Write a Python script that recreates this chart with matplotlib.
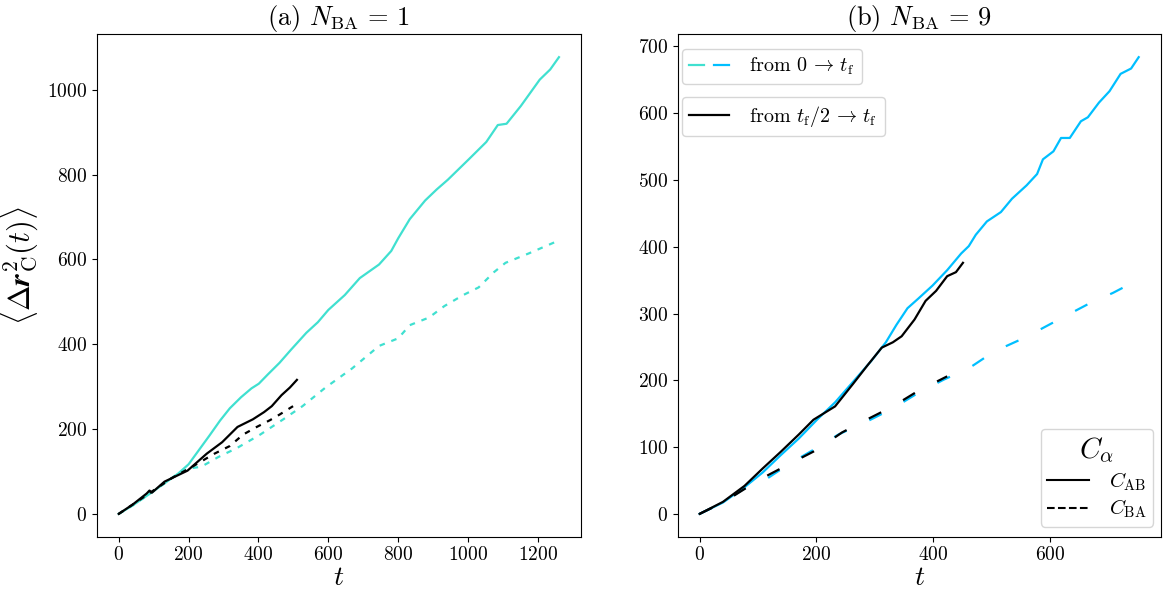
import matplotlib
matplotlib.use("Agg")
import matplotlib.pyplot as plt
from matplotlib.lines import Line2D
from matplotlib.legend_handler import HandlerTuple

plt.rcParams.update({
    "font.family": "serif",
    "font.serif": ["cmr10"],
    "mathtext.fontset": "cm",
    "axes.formatter.use_mathtext": True,
    "axes.unicode_minus": False,
    "lines.scale_dashes": False,
})

# ---------------- Panel (a): N_BA = 1 ----------------
a_full_AB_t = [0, 40, 88, 131, 170, 200, 230, 260, 290, 318, 350, 380, 401, 427, 460, 493, 537, 570, 600,
               647, 690, 745, 780, 800, 833, 877, 910, 942, 1003, 1052, 1085, 1110, 1151, 1205, 1235, 1260]
a_full_AB_v = [0, 20, 47, 72, 95, 117, 151, 185, 220, 249, 275, 296, 307, 329, 356, 387, 427, 452, 481,
               516, 556, 588, 620, 650, 695, 739, 765, 788, 837, 877, 917, 920, 962, 1024, 1048, 1077]

a_full_BA_t = [0, 40, 88, 131, 170, 200, 236, 285, 340, 405, 471, 526, 592, 668, 745, 800, 833, 888,
               932, 986, 1030, 1074, 1107, 1173, 1249]
a_full_BA_v = [0, 20, 47, 72, 95, 107, 111, 134, 156, 187, 223, 254, 298, 343, 396, 414, 445, 463,
               490, 516, 534, 570, 592, 614, 641]

a_half_AB_t = [0, 40, 80, 88, 95, 131, 197, 252, 296, 340, 384, 416, 438, 466, 490, 510]
a_half_AB_v = [0, 22, 48, 55, 50, 76, 102, 142, 169, 205, 223, 240, 254, 280, 298, 316]

a_half_BA_t = [0, 40, 99, 153, 208, 274, 318, 356, 395, 433, 460, 499]
a_half_BA_v = [0, 22, 55, 85, 110, 142, 160, 187, 205, 221, 234, 254]

# ---------------- Panel (b): N_BA = 9 ----------------
b_full_AB_t = [0, 40, 77, 108, 139, 170, 201, 232, 263, 294, 319, 337, 356, 374, 399, 424, 448, 461,
               473, 492, 516, 535, 560, 578, 588, 606, 619, 634, 653, 665, 684, 702, 721, 739, 752]
b_full_AB_v = [0, 17, 40, 62, 88, 113, 141, 167, 198, 229, 257, 283, 308, 322, 342, 365, 390, 401,
               418, 438, 452, 472, 492, 509, 531, 543, 563, 563, 588, 594, 616, 633, 659, 667, 684]

b_full_BA_t = [0, 40, 77, 102, 152, 201, 238, 288, 331, 374, 418, 461, 504, 547, 585, 628, 665, 708, 752]
b_full_BA_v = [0, 17, 38, 45, 74, 99, 119, 139, 158, 181, 201, 218, 243, 260, 277, 297, 314, 331, 351]

b_half_AB_t = [0, 40, 77, 108, 139, 170, 195, 232, 263, 288, 312, 331, 346, 368, 387, 405, 424, 439, 451]
b_half_AB_v = [0, 18, 42, 68, 93, 119, 141, 161, 195, 223, 249, 257, 266, 291, 319, 334, 356, 362, 376]

b_half_BA_t = [0, 40, 102, 152, 201, 244, 288, 331, 374, 424]
b_half_BA_v = [0, 17, 51, 74, 96, 122, 142, 161, 184, 206]

col_a = "#40E0D0"  # turquoise
col_b = "#00BFFF"  # deepskyblue
lw = 1.6
dash_a = (0, (4.0, 5.0))
dash_b = (0, (10.0, 18.0))

fig = plt.figure(figsize=(11.68, 5.92), dpi=100)
ax1 = fig.add_axes([0.0828, 0.0934, 0.4146, 0.8486])
ax2 = fig.add_axes([0.5802, 0.0934, 0.4135, 0.8486])

ax1.plot(a_full_AB_t, a_full_AB_v, color=col_a, lw=lw)
ax1.plot(a_full_BA_t, a_full_BA_v, color=col_a, lw=lw, linestyle=dash_a)
ax1.plot(a_half_AB_t, a_half_AB_v, color="black", lw=lw)
ax1.plot(a_half_BA_t, a_half_BA_v, color="black", lw=lw, linestyle=dash_a)

ax2.plot(b_full_AB_t, b_full_AB_v, color=col_b, lw=lw)
ax2.plot(b_full_BA_t, b_full_BA_v, color=col_b, lw=lw, linestyle=dash_b)
ax2.plot(b_half_AB_t, b_half_AB_v, color="black", lw=lw)
ax2.plot(b_half_BA_t, b_half_BA_v, color="black", lw=lw, linestyle=dash_b)

for ax in (ax1, ax2):
    ax.tick_params(labelsize=14)
    ax.set_xlabel(r"$t$", fontsize=20, labelpad=0)

ax1.set_xticks([0, 200, 400, 600, 800, 1000, 1200])
ax1.set_yticks([0, 200, 400, 600, 800, 1000])
ax2.set_xticks([0, 200, 400, 600])
ax2.set_yticks([0, 100, 200, 300, 400, 500, 600, 700])

ax1.set_title(r"(a) $N_\mathrm{BA}\,=\,1$", fontsize=19)
ax2.set_title(r"(b) $N_\mathrm{BA}\,=\,9$", fontsize=19)
ax1.set_ylabel(r"$\langle \Delta \mathbfit{r}^2_\mathrm{C}(t) \rangle$", fontsize=22)
ax1.yaxis.set_label_coords(-0.117, 0.54)

# legends in panel (b)
h_full = (Line2D([], [], color=col_a, lw=lw), Line2D([], [], color=col_b, lw=lw))
leg1 = ax2.legend([h_full], [r"from $0\,\to\,t_\mathrm{f}$"],
                  handler_map={tuple: HandlerTuple(ndivide=None, pad=0.5)},
                  loc="upper left", fontsize=14.5, bbox_to_anchor=(0.009, 0.971),
                  borderaxespad=0, borderpad=0.35, handlelength=2.0, handletextpad=1.0)
ax2.add_artist(leg1)
h_half = Line2D([], [], color="black", lw=lw)
leg2 = ax2.legend([h_half], [r"from $t_\mathrm{f}/2\,\to\,t_\mathrm{f}$"],
                  loc="upper left", fontsize=14.5, bbox_to_anchor=(0.009, 0.875),
                  borderaxespad=0, borderpad=0.35, handlelength=2.0, handletextpad=1.0)
ax2.add_artist(leg2)
h_ab = Line2D([], [], color="black", lw=1.5)
h_ba = Line2D([], [], color="black", lw=1.5, linestyle=(0, (5.5, 2.4)))
leg3 = ax2.legend([h_ab, h_ba], [r"$C_\mathrm{AB}$", r"$C_\mathrm{BA}$"],
                  title=r"$C_\alpha$", title_fontsize=21, fontsize=15,
                  loc="lower right", bbox_to_anchor=(0.985, 0.02), borderaxespad=0,
                  labelspacing=0.25, borderpad=0.3, handletextpad=1.0)

fig.savefig("out.png", dpi=100)
